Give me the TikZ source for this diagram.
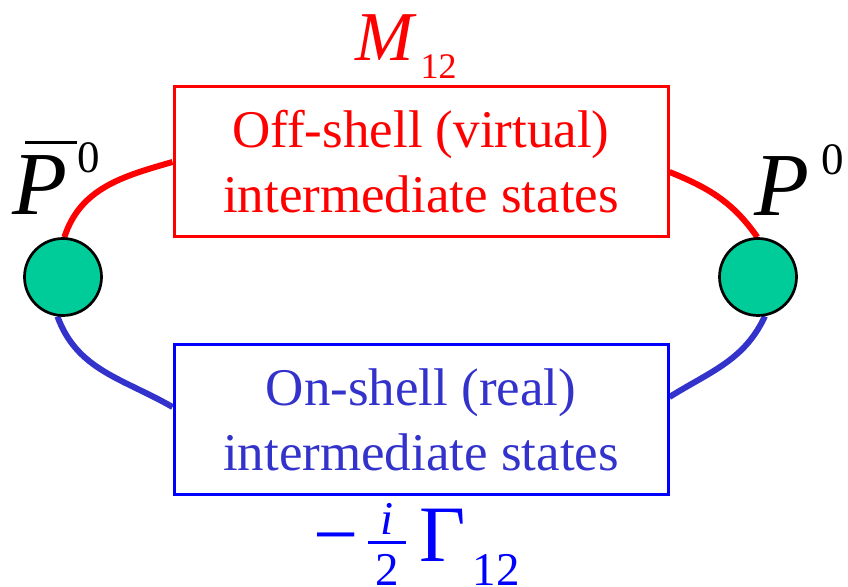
\documentclass[tikz,border=0pt]{standalone}
\usepackage{fontspec}
\setmainfont{Liberation Serif}
\usepackage{tikz}
\usetikzlibrary{positioning,backgrounds}
\definecolor{virtualred}{RGB}{255,0,0}
\definecolor{realblue}{RGB}{0,0,255}
\definecolor{textblue}{RGB}{51,51,204}
\definecolor{mesongreen}{RGB}{0,204,153}
\tikzset{
  statebox/.style={
    draw,line width=3pt,align=center,inner sep=0pt,
    minimum width=494pt,minimum height=150pt,font=\fontsize{53}{65}\selectfont
  },
  offbox/.style={statebox,draw=virtualred,text=virtualred},
  onbox/.style={statebox,draw=realblue,text=textblue},
  meson/.style={circle,draw=black,line width=2.7pt,fill=mesongreen,minimum size=77pt,inner sep=0pt},
  virtualline/.style={draw=virtualred,line width=6pt},
  realline/.style={draw=textblue,line width=6pt},
  mathlabel/.style={inner sep=0pt,anchor=base west}
}

\begin{document}
\begin{tikzpicture}[x=1pt,y=1pt]
  \useasboundingbox (0,0) rectangle (848,586);
  \node[offbox] (offshell) at (421,424) {Off-shell (virtual)\\intermediate states};
  \node[onbox] (onshell) at (421,166) {On-shell (real)\\intermediate states};
  \node[meson] (pbar) at (63,309) {};
  \node[meson] (p) at (758,309) {};
  % loop through the two kinds of intermediate states
  \begin{pgfonlayer}{background}
    \draw[virtualline] (pbar.88) to[out=72,in=196] (offshell.west);
    \draw[virtualline] ([yshift=-10pt]offshell.east) to[out=-22,in=125] (p.91);
    \draw[realline] (pbar.262) to[out=-70,in=150] ([yshift=13pt]onshell.west);
    \draw[realline] ([yshift=23pt]onshell.east) to[out=32,in=-115] (p.280);
  \end{pgfonlayer}
  \node[mathlabel,font=\fontsize{90}{90}\selectfont] (pbarname) at (12,371)
    {\rlap{\hspace{13pt}\rule[71pt]{52pt}{3pt}}\textit{P}\hspace{10pt}\raisebox{42pt}{\fontsize{45}{45}\selectfont 0}};
  \node[mathlabel,font=\fontsize{90}{90}\selectfont] (pname) at (754,370)
    {\textit{P}\hspace{12pt}\raisebox{41pt}{\fontsize{45}{45}\selectfont 0}};
  \node[mathlabel,text=virtualred,font=\fontsize{70}{70}\selectfont] (mixmass) at (355,525)
    {\textit{M}\hspace{4pt}\raisebox{-18pt}{\fontsize{36}{36}\selectfont 12}};
  \node[mathlabel,text=realblue,font=\fontsize{80}{80}\selectfont] (mixwidth) at (313,25)
    {−\hspace{10pt}\rlap{\raisebox{27pt}{\makebox[38pt]{\fontsize{47}{47}\selectfont\itshape i}}}%
     \rlap{\raisebox{-25pt}{\makebox[38pt]{\fontsize{47}{47}\selectfont 2}}}%
     \rule[17pt]{38pt}{3pt}\hspace{13pt}Γ\hspace{7pt}\raisebox{-25pt}{\fontsize{47}{47}\selectfont 12}};
\end{tikzpicture}
\end{document}
